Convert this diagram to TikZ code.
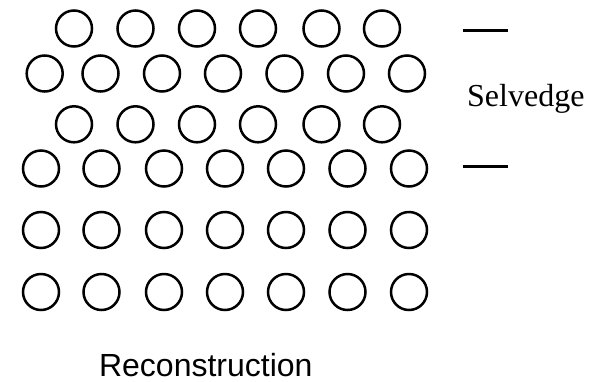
\documentclass[tikz,border=0pt]{standalone}
\usepackage{fontspec}
\setmainfont{Liberation Serif}
\setsansfont{Liberation Sans}
\begin{document}
\begin{tikzpicture}[x=1pt,y=-1pt,
  fib/.style={circle,draw=black,line width=2.5pt,minimum size=36pt,inner sep=0pt},
  mark line/.style={line width=3pt},
  lbl/.style={inner sep=0pt}]
\useasboundingbox (0,0) rectangle (602,381);
% rows 1 and 3 (6 circles)
\foreach \x [count=\i] in {74,135.5,197,258,321.5,382}{
  \node[fib] (a\i) at (\x,28.5) {};
  \node[fib] (c\i) at (\x,124.3) {};
}
% row 2 (7 circles)
\foreach \x [count=\i] in {44.7,100.5,162,223,284.5,346,407}{
  \node[fib] (b\i) at (\x,73.5) {};
}
% rows 4-6 (7 circles)
\foreach \x [count=\i] in {41,101.5,164,225,286,347.5,409}{
  \node[fib] (d\i) at (\x,168.5) {};
  \node[fib] (e\i) at (\x,230) {};
  \node[fib] (f\i) at (\x,292) {};
}
\coordinate (t1) at (462.5,30);
\coordinate (t2) at (507.5,30);
\coordinate (s1) at (462.5,166);
\coordinate (s2) at (507.5,166);
\draw[mark line] (t1) -- (t2);
\draw[mark line] (s1) -- (s2);
\node[lbl,anchor=base west,font=\fontsize{32}{38}\selectfont] (sel) at (467,106.7) {Selvedge};
\node[lbl,anchor=base,font=\sffamily\fontsize{32}{38}\selectfont] (rec) at (205.8,376.7) {Reconstruction};
\end{tikzpicture}
\end{document}
